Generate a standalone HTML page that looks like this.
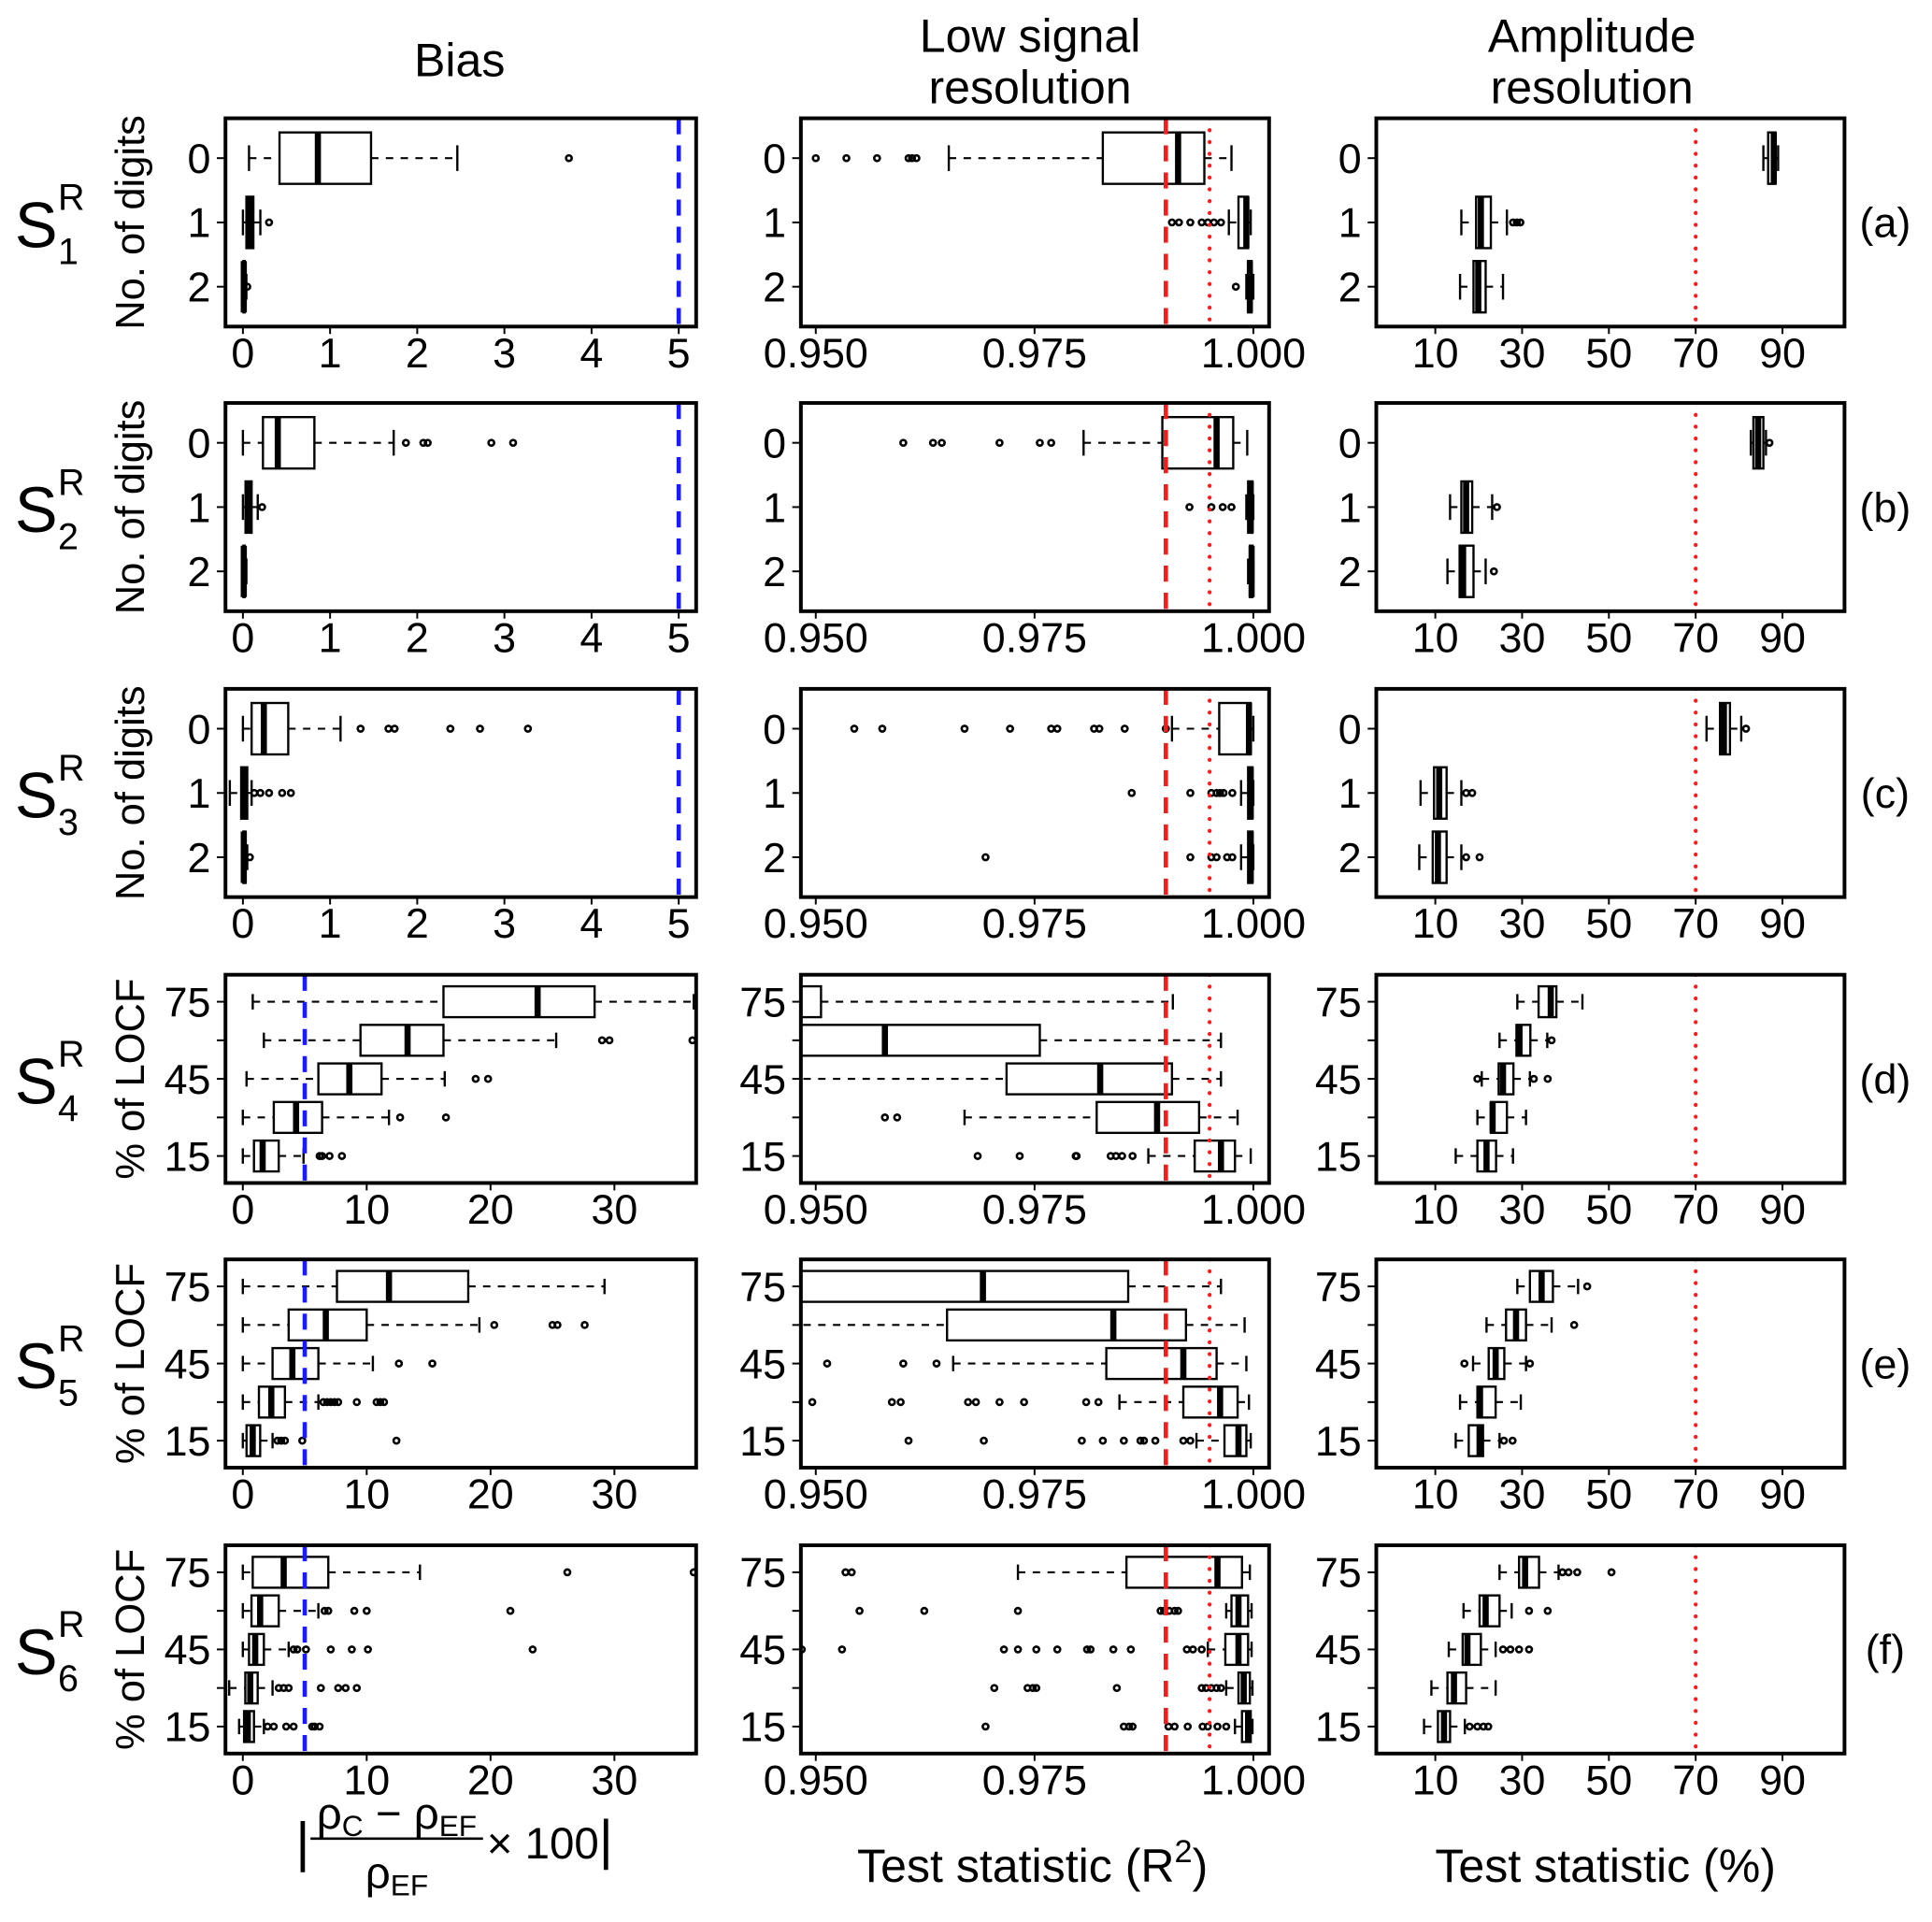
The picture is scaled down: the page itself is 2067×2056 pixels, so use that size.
<!DOCTYPE html>
<html><head><meta charset="utf-8">
<style>
html,body{margin:0;padding:0;background:#fff;}
svg{display:block;font-family:"Liberation Sans",Arial,sans-serif;}
</style></head>
<body>
<svg id="fig" xmlns="http://www.w3.org/2000/svg" width="2067" height="2056" viewBox="0 0 1568 1559.7" preserveAspectRatio="none">
<rect x="0" y="0" width="1568" height="1560" fill="#fff"/>
<g font-size="38" text-anchor="middle">
<text x="373" y="62">Bias</text>
<text x="836" y="42">Low signal</text>
<text x="836" y="84">resolution</text>
<text x="1292" y="42">Amplitude</text>
<text x="1292" y="84">resolution</text>
</g>
<g font-size="36">
<text x="240" y="1510" font-size="44">|</text>
<text x="322" y="1484" text-anchor="middle">ρ<tspan font-size="24" dy="6">C</tspan><tspan dy="-6"> − ρ</tspan><tspan font-size="24" dy="6">EF</tspan></text>
<line x1="252" y1="1492" x2="392" y2="1492" stroke="#000" stroke-width="2"/>
<text x="322" y="1532" text-anchor="middle">ρ<tspan font-size="24" dy="6">EF</tspan></text>
<text x="395" y="1508">× 100<tspan font-size="44">|</tspan></text>
<text x="838" y="1527" text-anchor="middle" font-size="38">Test statistic (R<tspan font-size="26" dy="-16">2</tspan><tspan dy="16">)</tspan></text>
<text x="1303" y="1527" text-anchor="middle" font-size="38">Test statistic (%)</text>
</g>
<g id="panels"></g>
</svg>
<script>
// ===== data =====
const digitCats = ["0","1","2"];
const locfCats = ["75","60","45","30","15"];
const locfTickLabels = ["75","","45","","15"];
const rowLetters = ["(a)","(b)","(c)","(d)","(e)","(f)"];
const biasTicksDigits = [0,1,2,3,4,5];
const biasTicksLocf = [0,10,20,30];
const lowTicks = [0.950,0.975,1.000];
const lowTickLabels = ["0.950","0.975","1.000"];
const ampTicks = [10,30,50,70,90];
const biasRef = [5];
const lowDashedRef = [0.99];
const lowDottedRef = [0.995];
const ampDottedRef = [70];

const biasA = [[0.07,0.42,0.86,1.47,2.46],[0,0.04,0.08,0.12,0.2],[0,0.005,0.01,0.02,0.04]];
const biasAOut = [[3.74],[0.3],[0.05]];
const biasB = [[0,0.23,0.4,0.82,1.73],[0,0.03,0.06,0.1,0.17],[0,0.005,0.01,0.02,0.04]];
const biasBOut = [[1.87,2.07,2.12,2.85,3.1],[0.22],[]];
const biasC = [[0,0.1,0.24,0.52,1.12],[-0.15,-0.02,0.02,0.05,0.1],[0,0.005,0.01,0.03,0.05]];
const biasCOut = [[1.35,1.67,1.74,2.38,2.72,3.27],[0.13,0.2,0.3,0.45,0.55],[0.08]];
const biasD = [[0.8,16.2,23.8,28.4,36.4],[1.7,9.5,13.3,16.2,25.3],[0.3,6.1,8.6,11.2,16.3],[0,2.5,4.3,6.4,11.8],[0,0.9,1.6,2.9,4.9]];
const biasDOut = [[],[29,29.6,36.3],[18.8,19.8],[12.7,16.4],[6.2,6.4,7,8]];
const biasE = [[0,7.6,11.8,18.2,29.2],[0,3.7,6.7,10,19.1],[0,2.4,4,6.1,10.5],[0,1.3,2.3,3.4,6.1],[0,0.3,0.8,1.4,2.4]];
const biasEOut = [[],[20.3,25,25.4,27.6],[12.6,15.3],[6.5,6.8,7.1,7.4,7.7,9.2,10.8,11.1,11.4],[2.8,3.1,3.4,4.8,12.4]];
const biasF = [[0,0.8,3.3,6.9,14.3],[0,0.7,1.4,2.9,6.1],[0,0.5,1,1.7,3.7],[-1.1,0.2,0.6,1.2,2.4],[-0.3,0.1,0.4,0.9,1.7]];
const biasFOut = [[26.2,36.4],[6.6,6.9,9,10,21.6],[4.1,4.4,5.1,7.1,8.8,10.1,23.4],[2.9,3.3,3.7,6.3,7.7,8.3,9.2],[2,2.5,3.5,4.1,5.6,5.8,6.2]];

const lowA = [[0.9652,0.9828,0.9914,0.9944,0.9975],[0.9972,0.9983,0.9992,0.9994,0.9997],[0.9992,0.9994,0.9996,0.9998,1.0]];
const lowAOut = [[0.950,0.9535,0.957,0.9606,0.961,0.9615],[0.9907,0.9915,0.9928,0.9941,0.9948,0.9955,0.9963],[0.998]];
const lowB = [[0.9806,0.9896,0.9958,0.9977,0.9993],[0.9992,0.9994,0.9997,0.9999,1.0],[0.9994,0.9996,0.9998,0.9999,1.0]];
const lowBOut = [[0.96,0.9634,0.9644,0.971,0.9756,0.9769],[0.9927,0.9952,0.9965,0.9975],[]];
const lowC = [[0.9907,0.9961,0.9995,0.9997,1.0],[0.9986,0.9994,0.9997,0.9999,1.0],[0.9986,0.9994,0.9997,0.9999,1.0]];
const lowCOut = [[0.9544,0.9576,0.967,0.9722,0.9769,0.9776,0.9818,0.9824,0.9853,0.99],[0.9861,0.9928,0.9952,0.9958,0.9962,0.9966,0.9976],[0.9694,0.9928,0.9952,0.9958,0.997,0.9976]];
const lowD = [[0.92,0.935,0.945,0.9506,0.9908],[0.93,0.94,0.9579,0.9756,0.9963],[0.93,0.9718,0.9825,0.9907,0.9963],[0.967,0.9821,0.989,0.9938,0.9982],[0.988,0.9933,0.9963,0.9979,0.9997]];
const lowDOut = [[],[],[],[0.9579,0.9593],[0.9685,0.9733,0.9797,0.9798,0.9837,0.9843,0.985,0.9862]];
const lowE = [[0.92,0.935,0.9691,0.9857,0.9963],[0.93,0.965,0.984,0.9923,0.999],[0.9657,0.9832,0.992,0.9958,0.9992],[0.9847,0.992,0.9962,0.9982,0.9995],[0.9935,0.9967,0.9983,0.9992,0.9997]];
const lowEOut = [[],[],[0.9513,0.96,0.9638],[0.9496,0.9587,0.9597,0.9674,0.9683,0.971,0.9738,0.9809,0.9823],[0.9606,0.9692,0.9804,0.9828,0.9852,0.9871,0.9875,0.9888,0.992,0.9928]];
const lowF = [[0.9731,0.9855,0.9959,0.9987,0.9996],[0.9969,0.9975,0.9983,0.9994,0.9998],[0.9948,0.9968,0.9983,0.9994,0.9998],[0.9969,0.9983,0.9989,0.9996,0.9999],[0.9979,0.9987,0.9994,0.9997,0.9999]];
const lowFOut = [[0.9534,0.9541],[0.955,0.9624,0.9731,0.9894,0.9898,0.9904,0.991,0.9914],[0.9484,0.953,0.9715,0.9731,0.9752,0.9776,0.981,0.9814,0.984,0.986,0.9924,0.9931,0.9941],[0.9704,0.9742,0.9748,0.9752,0.9844,0.9941,0.9946,0.9952,0.9958,0.9963],[0.9694,0.9852,0.9858,0.9862,0.9903,0.991,0.9925,0.9942,0.9948,0.9959,0.9969]];

const ampA = [[85.6,86.7,88,88.4,89],[16,19.4,20.5,22.8,26.5],[15.7,18.8,19.9,21.6,25.6]];
const ampAOut = [[],[27.9,28.8,29.6],[]];
const ampB = [[82.7,83.3,84.4,85.6,86.2],[13.4,16,17.1,18.5,23.1],[12.8,15.6,16.4,18.8,21.6]];
const ampBOut = [[87],[24.2],[23.5]];
const ampC = [[72.5,75.6,76.5,77.9,80.5],[6.6,9.7,10.9,12.6,16],[6.3,9.4,10.6,12.6,16]];
const ampCOut = [[81.6],[17.1,18.5],[17.1,20.2]];
const ampD = [[28.9,33.8,36.6,37.9,43.9],[24.8,28.7,29.4,31.9,35.8],[20.7,24.6,25.6,28,31.8],[19.7,22.8,23.2,26.5,30.9],[14.7,19.7,21.8,24,27.9]];
const ampDOut = [[],[36.8],[19.7,32.7,35.9],[],[]];
const ampE = [[28.9,31.8,34.5,37.1,42.9],[21.8,26.3,28.6,30.9,36.8],[18.7,22.3,23.9,25.9,30.9],[15.7,19.7,20.3,23.9,29.7],[14.7,17.7,20.2,21,24.8]];
const ampEOut = [[45],[42],[16.7,31.8],[],[25.8,27.8]];
const ampF = [[24.8,29.3,30.7,33.9,38.4],[16.5,20.2,21.6,24.8,27.6],[13.1,16.3,17.4,20.5,23.9],[9.1,12.8,14.3,17.1,23.9],[7.4,10.6,12,13.4,16.8]];
const ampFOut = [[39.3,40.7,42.7,50.6],[31.6,35.9],[25.6,27.3,29.3,31.6],[],[17.9,19.7,21.1,22.2]];

// ===== layout =====
const NS = "http://www.w3.org/2000/svg";
const rowTops = [96,327,559,791,1022,1254];
const PH = 169;
const colX = [[183,565],[650,1030],[1117,1497]];
const root = document.getElementById("panels");

function el(tag, attrs, parent){
  const e = document.createElementNS(NS, tag);
  for (const k in attrs) e.setAttribute(k, attrs[k]);
  parent.appendChild(e);
  return e;
}
function xScale(dom, c){ return v => colX[c][0] + (v-dom[0])/(dom[1]-dom[0])*(colX[c][1]-colX[c][0]); }
function yScale(n, r){
  const lo = 0.5-0.04*n, hi = n+0.5+0.04*n, u = PH/(hi-lo);
  return {pos: k => rowTops[r] + (k+1-lo)*u, u: u};
}

function drawPanel(r, c, name, stats, outs, cats, catLabels, dom, ticks, tickLabels, refs){
  const g = el("g", {}, root);
  
  
  const x = xScale(dom, c), ys = yScale(cats.length, r);
  const x0 = colX[c][0], x1 = colX[c][1], top = rowTops[r], bot = top+PH;
  const clipId = "clip-"+name;
  const cp = el("clipPath", {id: clipId}, g);
  el("rect", {x:x0, y:top, width:x1-x0, height:PH}, cp);
  const inner = el("g", {"clip-path":"url(#"+clipId+")"}, g);
  const bh = 0.4*ys.u, ch = 0.2*ys.u;
  stats.forEach((s, k) => {
    const y = ys.pos(k);
    const bg = el("g", {}, inner);
    
    
    el("line", {x1:x(s[0]), y1:y, x2:x(s[1]), y2:y, stroke:"#000", "stroke-width":1.6, "stroke-dasharray":"6,6"}, bg);
    el("line", {x1:x(s[3]), y1:y, x2:x(s[4]), y2:y, stroke:"#000", "stroke-width":1.6, "stroke-dasharray":"6,6"}, bg);
    el("line", {x1:x(s[0]), y1:y-ch, x2:x(s[0]), y2:y+ch, stroke:"#000", "stroke-width":1.8}, bg);
    el("line", {x1:x(s[4]), y1:y-ch, x2:x(s[4]), y2:y+ch, stroke:"#000", "stroke-width":1.8}, bg);
    el("rect", {x:x(s[1]), y:y-bh, width:Math.max(x(s[3])-x(s[1]),0.5), height:2*bh, fill:"#fff", stroke:"#000", "stroke-width":1.8}, bg);
    el("line", {x1:x(s[2]), y1:y-bh, x2:x(s[2]), y2:y+bh, stroke:"#000", "stroke-width":5}, bg);
    (outs[k]||[]).forEach(v => {
      const o = el("circle", {cx:x(v), cy:y, r:2.3, fill:"none", stroke:"#000", "stroke-width":2}, bg);
      
      
    });
  });
  refs.forEach(rf => {
    const l = el("line", {x1:x(rf.v), y1:top, x2:x(rf.v), y2:bot, stroke:rf.color, "stroke-width":rf.dot?3.2:3.5, "stroke-dasharray":rf.dot?"0.1,9.5":"13,9", "stroke-linecap":rf.dot?"round":"butt"}, inner);
    
    
  });
  const frame = el("rect", {x:x0, y:top, width:x1-x0, height:PH, fill:"none", stroke:"#000", "stroke-width":3}, g);
  
  
  ticks.forEach((t, i) => {
    const tx = x(t);
    el("line", {x1:tx, y1:bot, x2:tx, y2:bot+6, stroke:"#000", "stroke-width":1.5}, g);
    const tl = el("text", {x:tx, y:bot+33, "text-anchor":"middle", "font-size":34}, g);
    tl.textContent = tickLabels[i];
    
    
  });
  cats.forEach((cat, k) => {
    const y = ys.pos(k);
    el("line", {x1:x0-7, y1:y, x2:x0, y2:y, stroke:"#000", "stroke-width":1.5}, g);
    if (catLabels[k]) {
      const yl = el("text", {x:x0-12, y:y+12, "text-anchor":"end", "font-size":34}, g);
      yl.textContent = catLabels[k];
      
      
    }
  });
}

const biasStats = [biasA,biasB,biasC,biasD,biasE,biasF];
const biasOuts = [biasAOut,biasBOut,biasCOut,biasDOut,biasEOut,biasFOut];
const lowStats = [lowA,lowB,lowC,lowD,lowE,lowF];
const lowOuts = [lowAOut,lowBOut,lowCOut,lowDOut,lowEOut,lowFOut];
const ampStats = [ampA,ampB,ampC,ampD,ampE,ampF];
const ampOuts = [ampAOut,ampBOut,ampCOut,ampDOut,ampEOut,ampFOut];
const rowIds = ["a","b","c","d","e","f"];

for (let r = 0; r < 6; r++) {
  const dig = r < 3;
  const cats = dig ? digitCats : locfCats;
  const labs = dig ? digitCats : locfTickLabels;
  const bdom = dig ? [-0.2,5.2] : [-1.4,36.6];
  const bt = dig ? biasTicksDigits : biasTicksLocf;
  drawPanel(r, 0, "bias-"+rowIds[r], biasStats[r], biasOuts[r], cats, labs, bdom, bt, bt.map(String),
    biasRef.map(v => ({v:v, color:"#1a1aff", dot:false})));
  drawPanel(r, 1, "low-signal-"+rowIds[r], lowStats[r], lowOuts[r], cats, labs, [0.9483,1.0018], lowTicks, lowTickLabels,
    lowDashedRef.map(v => ({v:v, color:"#ff1a1a", dot:false})).concat(lowDottedRef.map(v => ({v:v, color:"#ff1a1a", dot:true}))));
  drawPanel(r, 2, "amplitude-"+rowIds[r], ampStats[r], ampOuts[r], cats, labs, [-3.6,104.3], ampTicks, ampTicks.map(String),
    ampDottedRef.map(v => ({v:v, color:"#ff1a1a", dot:true})));

  const cy = rowTops[r] + PH/2;
  const sl = el("text", {x:12, y:cy+20, "font-size":52}, root);
  
  
  sl.textContent = "S";
  const sup = el("text", {x:47, y:cy-10, "font-size":30}, root);
  
  
  sup.textContent = "R";
  const sub = el("text", {x:47, y:cy+34, "font-size":30}, root);
  
  
  sub.textContent = String(r+1);
  const yt = el("text", {x:0, y:0, "font-size":33, "text-anchor":"middle", transform:"translate(117,"+cy+") rotate(-90)"}, root);
  
  
  yt.textContent = dig ? "No. of digits" : "% of LOCF";
  const lt = el("text", {x:1530, y:cy+12, "font-size":34, "text-anchor":"middle"}, root);
  
  
  lt.textContent = rowLetters[r];
}
</script>
</body></html>
